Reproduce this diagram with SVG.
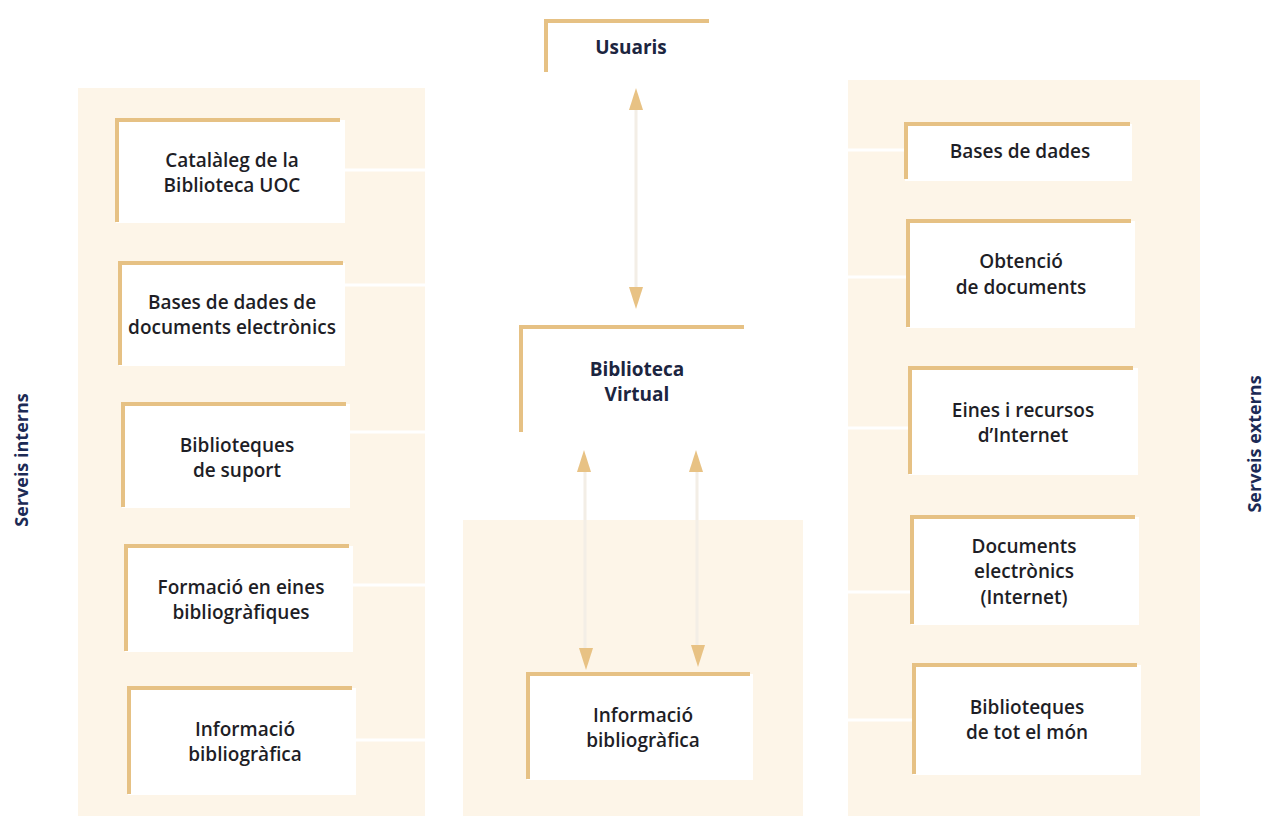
<svg xmlns="http://www.w3.org/2000/svg" width="1264" height="818" viewBox="0 0 1264 818">
<style>
.panel{fill:#fdf5e8}
.box{fill:#ffffff}
.edge{fill:none;stroke:#e6c184;stroke-width:4}
.t{font-family:"Open Sans","Liberation Sans",sans-serif;font-size:19px;font-weight:600;fill:#1e1e26;text-anchor:middle}
.tb{font-family:"Open Sans","Liberation Sans",sans-serif;font-size:19px;font-weight:700;fill:#1c2540;text-anchor:middle}
.side{font-family:"Open Sans","Liberation Sans",sans-serif;font-size:18px;font-weight:700;fill:#1c2a55;text-anchor:middle}
.conn{fill:none;stroke:#ffffff;stroke-width:3}
.shaft{fill:none;stroke:#f3eee6;stroke-width:3}
.head{fill:#e8c284}
</style>
<rect width="1264" height="818" fill="#ffffff"/>
<rect class="panel" x="78" y="88" width="347" height="728"/>
<rect class="panel" x="848" y="80" width="352" height="736"/>
<rect class="panel" x="463" y="520" width="340" height="296"/>
<g id="connectors">
<path class="conn" d="M345 170H440M345 285H440M350 432H440M352 585H440M355 740H440M440 170V740M440 380H519"/>
<path class="conn" d="M904 150H822M906 277H822M908 428H822M910 592H822M912 720H822M822 150V720M745 378H822"/>
<path class="shaft" d="M636 100V296M585 462V656M697 462V654"/>
<path class="head" d="M636 88L629 110H643Z"/>
<path class="head" d="M636 309L629 287H643Z"/>
<path class="head" d="M584 450L577 472H591Z"/>
<path class="head" d="M586 670L579 648H593Z"/>
<path class="head" d="M696 450L689 472H703Z"/>
<path class="head" d="M698 667L691 645H705Z"/>
</g>
<g id="usuaris"><rect class="box" x="544" y="21" width="166" height="52"/><path class="edge" d="M546 72V21H709"/><text class="tb" x="631" y="54">Usuaris</text></g>
<g id="cataleg"><rect class="box" x="116" y="120" width="229" height="103"/><path class="edge" d="M117 222V120H340"/><text class="t" x="232" y="167">Catalàleg de la</text><text class="t" x="232" y="192">Biblioteca UOC</text></g>
<g id="bases-docs"><rect class="box" x="119" y="263" width="226" height="103"/><path class="edge" d="M120 365V263H343"/><text class="t" x="232" y="309">Bases de dades de</text><text class="t" x="232" y="334">documents electrònics</text></g>
<g id="biblio-suport"><rect class="box" x="122" y="404" width="228" height="104"/><path class="edge" d="M123 507V404H346"/><text class="t" x="237" y="452">Biblioteques</text><text class="t" x="237" y="477">de suport</text></g>
<g id="formacio"><rect class="box" x="125" y="546" width="228" height="106"/><path class="edge" d="M126 651V546H349"/><text class="t" x="241" y="594">Formació en eines</text><text class="t" x="241" y="619">bibliogràfiques</text></g>
<g id="info-left"><rect class="box" x="128" y="688" width="228" height="107"/><path class="edge" d="M129 794V688H352"/><text class="t" x="245" y="736">Informació</text><text class="t" x="245" y="761">bibliogràfica</text></g>
<g id="biblioteca-virtual"><rect class="box" x="520" y="327" width="226" height="106"/><path class="edge" d="M521 432V327H744"/><text class="tb" x="637" y="376">Biblioteca</text><text class="tb" x="637" y="401">Virtual</text></g>
<g id="info-center"><rect class="box" x="527" y="674" width="226" height="106"/><path class="edge" d="M528 779V674H750"/><text class="t" x="643" y="722">Informació</text><text class="t" x="643" y="747">bibliogràfica</text></g>
<g id="bases-dades"><rect class="box" x="905" y="124" width="227" height="57"/><path class="edge" d="M906 179V124H1130"/><text class="t" x="1020" y="158">Bases de dades</text></g>
<g id="obtencio"><rect class="box" x="907" y="221" width="228" height="107"/><path class="edge" d="M908 327V221H1131"/><text class="t" x="1021" y="268">Obtenció</text><text class="t" x="1021" y="294">de documents</text></g>
<g id="eines"><rect class="box" x="909" y="368" width="229" height="107"/><path class="edge" d="M910 474V368H1133"/><text class="t" x="1023" y="417">Eines i recursos</text><text class="t" x="1023" y="442">d’Internet</text></g>
<g id="documents"><rect class="box" x="911" y="517" width="228" height="108"/><path class="edge" d="M912 624V517H1135"/><text class="t" x="1024" y="553">Documents</text><text class="t" x="1024" y="578">electrònics</text><text class="t" x="1024" y="604">(Internet)</text></g>
<g id="biblio-mon"><rect class="box" x="913" y="665" width="228" height="110"/><path class="edge" d="M914 774V665H1137"/><text class="t" x="1027" y="714">Biblioteques</text><text class="t" x="1027" y="739">de tot el món</text></g>
<text class="side" transform="translate(28 460) rotate(-90)">Serveis interns</text>
<text class="side" transform="translate(1261 444) rotate(-90)">Serveis externs</text>
</svg>
